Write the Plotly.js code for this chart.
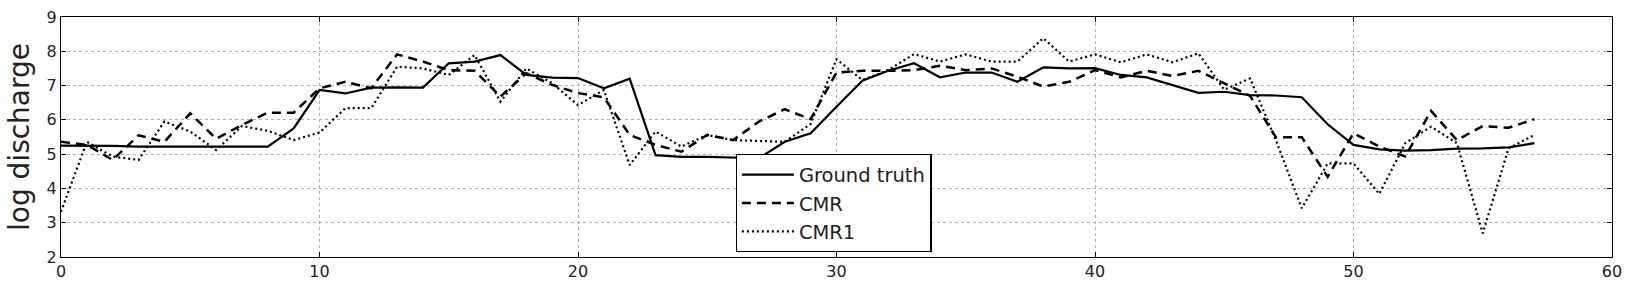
<!DOCTYPE html>
<html>
<head>
<meta charset="utf-8">
<script src="https://cdn.plot.ly/plotly-3.0.1.min.js"></script>
<style>html,body{margin:0;padding:0;background:#fff;}#chart{width:1631px;height:288px;}</style>
</head>
<body>
<div id="chart"></div>
<script>
const steps = [0,1,2,3,4,5,6,7,8,9,10,11,12,13,14,15,16,17,18,19,20,21,22,23,24,25,26,27,28,29,30,31,32,33,34,35,36,37,38,39,40,41,42,43,44,45,46,47,48,49,50,51,52,53,54,55,56,57];
const groundTruth = [5.25,5.25,5.24,5.22,5.22,5.22,5.22,5.20,5.22,5.75,6.87,6.77,6.94,6.95,6.94,7.65,7.70,7.89,7.31,7.23,7.22,6.92,7.20,4.97,4.92,4.92,4.90,4.88,5.36,5.61,6.38,7.14,7.43,7.65,7.24,7.38,7.38,7.11,7.53,7.50,7.51,7.31,7.24,7.02,6.79,6.82,6.72,6.71,6.66,5.87,5.27,5.14,5.10,5.12,5.16,5.17,5.20,5.32];
const cmr = [5.36,5.27,4.83,5.55,5.36,6.19,5.45,5.85,6.21,6.21,6.92,7.11,6.92,7.91,7.70,7.45,7.43,6.68,7.36,7.02,6.78,6.66,5.56,5.27,5.07,5.56,5.41,5.95,6.31,6.02,7.38,7.43,7.43,7.45,7.58,7.45,7.50,7.26,6.97,7.11,7.45,7.24,7.43,7.28,7.43,7.07,6.70,5.49,5.49,4.34,5.61,5.22,4.93,6.26,5.41,5.82,5.77,6.02];
const cmr1 = [3.32,5.36,4.93,4.83,5.95,5.66,5.12,5.82,5.68,5.41,5.63,6.34,6.34,7.55,7.50,7.31,7.89,6.53,7.50,7.07,6.43,6.87,4.68,5.66,5.22,5.56,5.41,5.39,5.36,5.88,7.77,7.16,7.45,7.92,7.70,7.91,7.70,7.70,8.38,7.70,7.91,7.68,7.91,7.68,7.94,6.88,7.21,5.40,3.42,4.73,4.73,3.84,5.32,5.80,5.32,2.69,5.17,5.56];
const seriesNames = ["Ground truth","CMR","CMR1"];
const xTicks = [0,10,20,30,40,50,60];
const yTicks = [2,3,4,5,6,7,8,9];

const traces = [
  {x: steps, y: groundTruth, name: seriesNames[0], mode: "lines", line: {color: "#000", width: 2.2, dash: "solid"}},
  {x: steps, y: cmr, name: seriesNames[1], mode: "lines", line: {color: "#000", width: 2.5, dash: "9px,6px"}},
  {x: steps, y: cmr1, name: seriesNames[2], mode: "lines", line: {color: "#000", width: 2.2, dash: "2px,3px"}}
];

const axisCommon = {
  showline: true, linecolor: "#000", linewidth: 1.2, mirror: "ticks",
  ticks: "inside", ticklen: 5, tickcolor: "#000", tickwidth: 1,
  showgrid: true, gridcolor: "#b0b0b0", griddash: "dot", gridwidth: 1,
  zeroline: false,
  tickfont: {family: "DejaVu Sans", size: 16, color: "#222"}
};

const layout = {
  width: 1631, height: 288,
  margin: {l: 61, r: 19, t: 17, b: 31},
  paper_bgcolor: "#fff", plot_bgcolor: "#fff",
  font: {family: "DejaVu Sans", color: "#222"},
  showlegend: true,
  xaxis: Object.assign({}, axisCommon, {range: [0, 60], tickvals: xTicks, ticktext: xTicks.map(String)}),
  yaxis: Object.assign({}, axisCommon, {range: [2, 9], tickvals: yTicks, ticktext: yTicks.map(String),
    title: {text: "log discharge", font: {family: "DejaVu Sans", size: 28, color: "#222"}, standoff: 8}}),
  legend: {
    x: 0.435, y: 0.428, xanchor: "left", yanchor: "top",
    bgcolor: "#fff", bordercolor: "#000", borderwidth: 1.2,
    font: {family: "DejaVu Sans", size: 19.5, color: "#222"},
    tracegroupgap: 0, itemwidth: 52
  }
};

Plotly.newPlot("chart", traces, layout, {displayModeBar: false, staticPlot: true});
</script>
</body>
</html>
